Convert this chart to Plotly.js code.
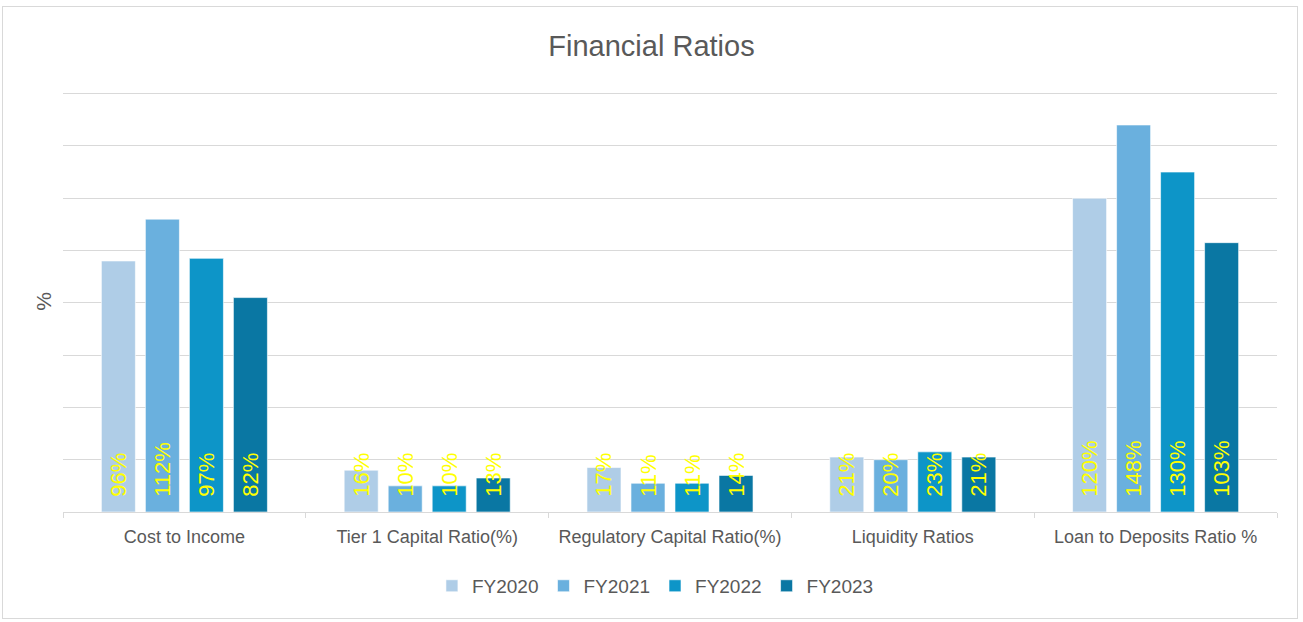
<!DOCTYPE html>
<html><head><meta charset="utf-8">
<script src="https://cdn.plot.ly/plotly-3.0.1.min.js"></script>
<style>body{margin:0;background:#fff}#wrap{position:relative;width:1303px;height:622px}#frame{position:absolute;left:2px;top:6px;width:1296px;height:613px;border:1px solid #d9d9d9;box-sizing:border-box;pointer-events:none;z-index:5}#chart{position:absolute;left:0;top:0;width:1303px;height:622px}</style>
</head><body><div id="wrap"><div id="frame"></div><div id="chart"></div></div>
<script>
const categories = ["Cost to Income", "Tier 1 Capital Ratio(%)", "Regulatory Capital Ratio(%)", "Liquidity Ratios", "Loan to Deposits Ratio %"];
const seriesNames = ["FY2020", "FY2021", "FY2022", "FY2023"];
const fy2020 = [96, 16, 17, 21, 120];
const fy2021 = [112, 10, 11, 20, 148];
const fy2022 = [97, 10, 11, 23, 130];
const fy2023 = [82, 13, 14, 21, 103];
const colors = ["#afcde7", "#6ab0de", "#0d95c8", "#0a77a3"];
const allSeries = [fy2020, fy2021, fy2022, fy2023];
const font = "Liberation Sans, Arial, sans-serif";
const traces = allSeries.map((vals, i) => ({
  type: "bar", name: seriesNames[i], x: categories, y: vals,
  marker: {color: colors[i], line: {color: "rgba(255,255,255,0.6)", width: 1}},
  text: vals.map(v => "\u00a0\u00a0" + v + "%"), textposition: "inside", insidetextanchor: "start",
  textangle: -90, constraintext: "none", cliponaxis: false,
  textfont: {color: "#ffff00", size: 22, family: font},
  hoverinfo: "x+y"
}));
const layout = {
  width: 1303, height: 622,
  margin: {l: 63, r: 26, t: 91, b: 110, autoexpand: false},
  paper_bgcolor: "rgba(0,0,0,0)", plot_bgcolor: "#fff",
  title: {text: "Financial Ratios", x: 0.5, xanchor: "center", y: 0.927, yanchor: "middle", font: {family: font, size: 29, color: "#595959"}},
  barmode: "group", bargap: 0.275, bargroupgap: 0.227,
  xaxis: {type: "category", automargin: false, tickangle: 0, showline: true, linecolor: "#d9d9d9", linewidth: 1, ticks: "outside", tickson: "boundaries", ticklen: 5, tickcolor: "#d9d9d9", ticklabelstandoff: 8, tickfont: {family: font, size: 18, color: "#595959"}, showgrid: false},
  yaxis: {range: [0, 161], tickvals: [20, 40, 60, 80, 100, 120, 140, 160], automargin: false, showticklabels: false, gridcolor: "#d9d9d9", gridwidth: 1, zeroline: false, title: {text: "%", standoff: 4, font: {family: font, size: 21, color: "#595959"}}},
  legend: {orientation: "h", x: 0.488, xanchor: "center", yref: "container", y: 0.058, yanchor: "middle", font: {family: font, size: 19, color: "#595959"}, itemwidth: 30, traceorder: "normal"},
  showlegend: true
};
Plotly.newPlot("chart", traces, layout, {displayModeBar: false, staticPlot: true});
</script></body></html>
